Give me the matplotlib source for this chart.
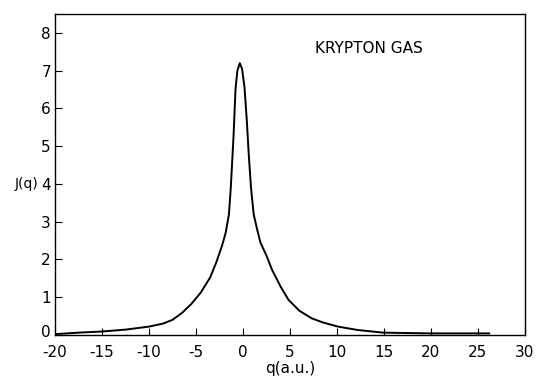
import matplotlib
matplotlib.use("Agg")
from matplotlib import pyplot as plt
from matplotlib import transforms
import numpy as np

# Compton profile J(q) of krypton gas
q = [-20.0, -17.5, -15.0, -12.5, -10.0, -8.5, -7.5, -6.5, -5.5, -4.5,
     -3.5, -2.8, -2.2, -1.85, -1.5, -1.3, -1.15, -1.0, -0.8, -0.6,
     -0.34, -0.1, 0.16, 0.4, 0.61, 0.85, 1.14, 1.5, 1.85, 2.5,
     3.08, 4.0, 4.84, 6.0, 7.3, 8.5, 10.1, 12.2, 14.9, 20.0, 26.2]
J = [0.02, 0.06, 0.09, 0.14, 0.22, 0.30, 0.40, 0.58, 0.82, 1.12,
     1.52, 1.95, 2.39, 2.70, 3.19, 3.9, 4.6, 5.3, 6.5, 7.0,
     7.2, 7.05, 6.56, 5.7, 4.79, 3.9, 3.19, 2.8, 2.45, 2.1,
     1.73, 1.28, 0.93, 0.64, 0.44, 0.33, 0.22, 0.13, 0.06, 0.04, 0.04]

xticks = np.arange(-20, 31, 5)
yticks = np.arange(0, 9, 1)

plt.rcParams['font.family'] = ['DejaVu Sans']
plt.rcParams['axes.unicode_minus'] = False

fig = plt.figure(figsize=(5.4, 3.81), dpi=100)
ax = fig.add_axes([0.102, 0.121, 0.870, 0.842])

ax.plot(q, J, color='black', lw=1.4)

ax.set_xlim(-20, 30)
ax.set_ylim(0, 8.5)
ax.set_xticks(xticks)
ax.set_yticks(yticks)
ax.tick_params(direction='in', length=5, width=0.8, labelsize=11)
ax.tick_params(axis='x', pad=7)
ax.tick_params(axis='y', pad=3)
for s in ax.spines.values():
    s.set_linewidth(1.0)

# nudge the y "0" up a little so it clears the "-20" below it
lab0 = ax.get_yticklabels()[0]
lab0.set_transform(lab0.get_transform() +
                   transforms.ScaledTranslation(0, 3 / 72, fig.dpi_scale_trans))

ax.set_xlabel('q(a.u.)', fontsize=11, labelpad=1)
ax.text(-0.036, 4, 'J(q)', transform=ax.get_yaxis_transform(),
        ha='right', va='center', fontsize=10)
ax.text(7.7, 7.58, 'KRYPTON GAS', fontsize=11, va='center', ha='left')

fig.savefig('out.png', dpi=100)
